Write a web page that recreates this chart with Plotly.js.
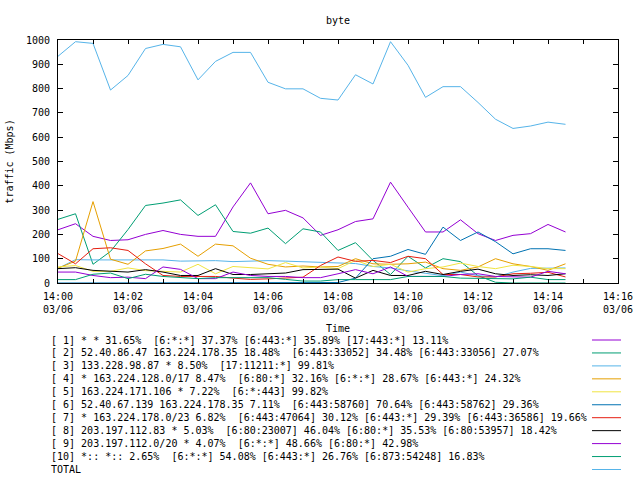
<!DOCTYPE html>
<html>
<head>
<meta charset="utf-8">
<script src="https://cdn.plot.ly/plotly-3.0.1.min.js"></script>
<style>html,body{margin:0;padding:0;background:#fff;}#chart{width:640px;height:480px;}</style>
</head>
<body>
<div id="chart"></div>
<script>
const times = [
 "2024-03-06 14:00:00","2024-03-06 14:00:30","2024-03-06 14:01:00","2024-03-06 14:01:30",
 "2024-03-06 14:02:00","2024-03-06 14:02:30","2024-03-06 14:03:00","2024-03-06 14:03:30",
 "2024-03-06 14:04:00","2024-03-06 14:04:30","2024-03-06 14:05:00","2024-03-06 14:05:30",
 "2024-03-06 14:06:00","2024-03-06 14:06:30","2024-03-06 14:07:00","2024-03-06 14:07:30",
 "2024-03-06 14:08:00","2024-03-06 14:08:30","2024-03-06 14:09:00","2024-03-06 14:09:30",
 "2024-03-06 14:10:00","2024-03-06 14:10:30","2024-03-06 14:11:00","2024-03-06 14:11:30",
 "2024-03-06 14:12:00","2024-03-06 14:12:30","2024-03-06 14:13:00","2024-03-06 14:13:30",
 "2024-03-06 14:14:00","2024-03-06 14:14:30"
];

const s1  = [219,244,192,175,178,200,216,200,192,192,313,412,285,299,268,196,219,253,264,415,312,210,210,260,203,175,196,203,241,210];
const s2  = [262,285,77,130,220,319,329,342,278,322,212,205,226,162,223,210,134,166,93,35,110,62,100,88,30,3,0,0,0,0];
const s3  = [60,96,95,95,95,95,95,90,92,92,88,90,92,90,88,85,82,80,68,62,50,40,30,45,30,25,45,60,62,62];
const s4  = [61,90,335,98,77,132,142,160,110,160,153,102,77,66,70,66,68,100,79,77,79,86,59,52,66,100,79,68,52,79];
const s5  = [66,72,48,48,62,51,48,45,77,38,68,62,58,84,62,66,59,93,68,77,45,59,66,82,68,59,73,68,59,59];
const s6  = [0,0,0,0,0,0,0,0,0,0,0,0,0,0,0,0,2,20,100,110,138,118,230,175,210,170,120,141,141,134];
const s7  = [121,79,141,145,134,79,31,27,27,27,20,15,17,20,24,72,107,89,93,84,110,100,35,35,25,25,38,40,44,25];
const s8  = [59,63,52,48,45,55,45,31,31,59,35,35,38,41,55,55,57,20,52,31,31,48,35,48,57,38,31,34,31,38];
const s9  = [45,45,31,22,24,18,66,56,18,18,45,31,27,27,22,22,38,55,38,66,27,27,27,35,38,27,24,24,48,38];
const s10 = [14,14,36,41,18,36,27,22,18,22,22,22,22,15,8,8,14,14,14,14,27,27,27,20,20,17,17,24,14,14];
const total = [933,993,986,794,854,965,982,972,836,912,949,949,826,799,799,760,753,857,819,993,896,764,808,808,743,674,636,646,662,653];

const seriesValues = [s1,s2,s3,s4,s5,s6,s7,s8,s9,s10,total];
const seriesNames = [
 "[ 1] * * 31.65%  [6:*:*] 37.37% [6:443:*] 35.89% [17:443:*] 13.11%",
 "[ 2] 52.40.86.47 163.224.178.35 18.48%  [6:443:33052] 34.48% [6:443:33056] 27.07%",
 "[ 3] 133.228.98.87 * 8.50%  [17:11211:*] 99.81%",
 "[ 4] * 163.224.128.0/17 8.47%  [6:80:*] 32.16% [6:*:*] 28.67% [6:443:*] 24.32%",
 "[ 5] 163.224.171.106 * 7.22%  [6:*:443] 99.82%",
 "[ 6] 52.40.67.139 163.224.178.35 7.11%  [6:443:58760] 70.64% [6:443:58762] 29.36%",
 "[ 7] * 163.224.178.0/23 6.82%  [6:443:47064] 30.12% [6:443:*] 29.39% [6:443:36586] 19.66%",
 "[ 8] 203.197.112.83 * 5.03%  [6:80:23007] 46.04% [6:80:*] 35.53% [6:80:53957] 18.42%",
 "[ 9] 203.197.112.0/20 * 4.07%  [6:*:*] 48.66% [6:80:*] 42.98%",
 "[10] *:: *:: 2.65%  [6:*:*] 54.08% [6:443:*] 26.76% [6:873:54248] 16.83%",
 "TOTAL"
];
const seriesColors = ["#9400d3","#009e73","#56b4e9","#e69f00","#f0e442","#0072b2","#e51e10","#000000","#9400d3","#009e73","#56b4e9"];

const FONT = "DejaVu Sans Mono, monospace";
const W = 640, H = 480, L = 58, R = 22, T = 40, B = 197;
const pw = W - L - R, ph = H - T - B;
const px2x = p => (p - L) / pw;
const px2y = p => (H - B - p) / ph;

const traces = seriesValues.map((v, i) => ({
  type: "scatter", mode: "lines", x: times, y: v, name: seriesNames[i],
  line: {color: seriesColors[i], width: 1}, showlegend: false, hoverinfo: "skip"
}));

const annotations = [];
const shapes = [];
seriesNames.forEach((n, i) => {
  const rowY = 340 + i * 12.95;
  annotations.push({
    xref: "paper", yref: "paper", x: px2x(49), y: px2y(rowY),
    xanchor: "left", yanchor: "middle", showarrow: false,
    text: n.replace(/ /g, "\u00a0"), font: {family: FONT, size: 10, color: "#000"}
  });
  shapes.push({
    type: "line", xref: "paper", yref: "paper",
    x0: px2x(592), x1: px2x(621), y0: px2y(rowY), y1: px2y(rowY),
    line: {color: seriesColors[i], width: 1}
  });
});

const layout = {
  width: W, height: H,
  margin: {l: L, r: R, t: T, b: B, pad: 0},
  paper_bgcolor: "#fff", plot_bgcolor: "#fff",
  font: {family: FONT, size: 10, color: "#000"},
  title: {text: "byte", font: {family: FONT, size: 10, color: "#000"},
          x: 338 / W, xanchor: "center", y: 1 - 20 / H, yanchor: "middle", yref: "container"},
  xaxis: {
    type: "date",
    range: ["2024-03-06 14:00:00", "2024-03-06 14:16:00"],
    tick0: "2024-03-06 14:00:00", dtick: 120000,
    tickformat: "%H:%M<br>%m/%d",
    ticks: "inside", ticklen: 4, tickcolor: "#000", tickwidth: 1,
    minor: {dtick: 60000, ticks: "inside", ticklen: 4, tickcolor: "#000", tickwidth: 1, showgrid: false},
    showline: true, linecolor: "#000", linewidth: 1, mirror: "ticks",
    showgrid: false, zeroline: false, fixedrange: true,
    ticklabelstandoff: 4,
    tickfont: {family: FONT, size: 10, color: "#000"},
    title: {text: "Time", font: {family: FONT, size: 10, color: "#000"}, standoff: 10}
  },
  yaxis: {
    range: [0, 1000], dtick: 100, tick0: 0,
    ticks: "inside", ticklen: 5, tickcolor: "#000", tickwidth: 1,
    showline: true, linecolor: "#000", linewidth: 1, mirror: "ticks",
    showgrid: false, zeroline: false, fixedrange: true,
    ticklabelstandoff: 5,
    tickfont: {family: FONT, size: 10, color: "#000"},
    title: {text: "traffic (Mbps)", font: {family: FONT, size: 10, color: "#000"}, standoff: 10}
  },
  annotations: annotations,
  shapes: shapes,
  showlegend: false
};

Plotly.newPlot("chart", traces, layout, {displayModeBar: false, staticPlot: true});
</script>
</body>
</html>
